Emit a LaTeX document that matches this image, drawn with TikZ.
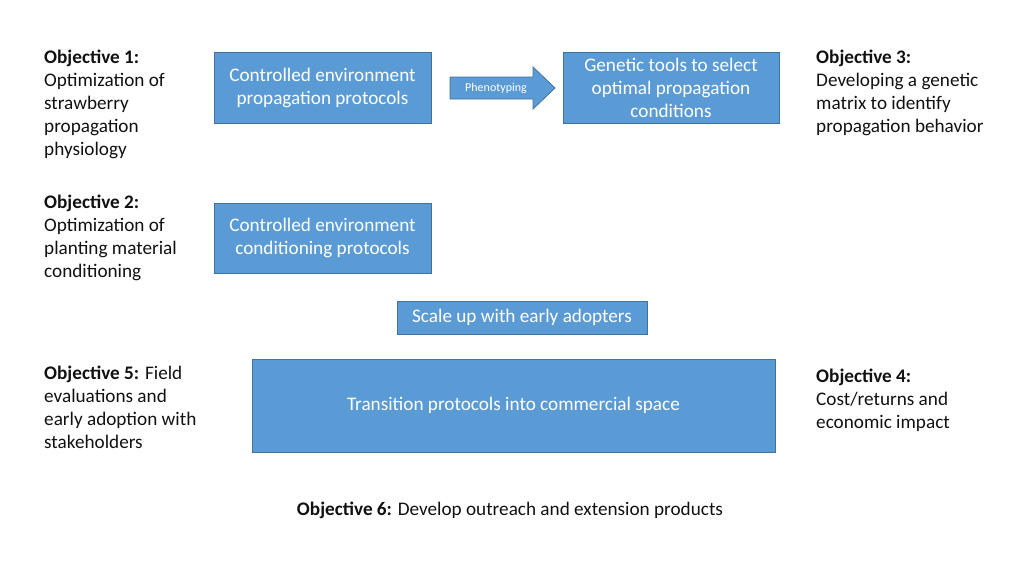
\documentclass[tikz,border=0pt]{standalone}
\usepackage{fontspec}
\setmainfont{Carlito}
\definecolor{boxblue}{HTML}{5B9BD5}
\definecolor{boxedge}{HTML}{41719C}
\definecolor{objtext}{HTML}{111111}

\begin{document}
\begin{tikzpicture}[x=1pt, y=-1pt]
\tikzset{BoxStyle/.style = {rectangle, fill=boxblue, draw=boxedge, line width=0.8pt, text=white, align=center, inner sep=0pt, font=\fontsize{19.2}{23}\selectfont}}
\tikzset{ObjStyle/.style = {anchor=north west, align=left, inner sep=0pt, text=objtext, font=\fontsize{19.2}{23}\selectfont}}
\tikzset{ArrowStyle/.style = {fill=boxblue, draw=boxedge, line width=0.8pt}}
  \useasboundingbox (0,0) rectangle (1024,576);

  \node[BoxStyle, minimum width=217pt, minimum height=71pt] (prop) at (322.5,88) {Controlled environment\\propagation protocols};
  \node[BoxStyle, minimum width=216pt, minimum height=71pt] (gen) at (671,88) {Genetic tools to select\\optimal propagation\\conditions};
  \node[BoxStyle, minimum width=217pt, minimum height=70pt] (cond) at (322.5,238) {Controlled environment\\conditioning protocols};
  \node[BoxStyle, minimum width=250pt, minimum height=33pt] (scale) at (522,317.5) {Scale up with early adopters};
  \node[BoxStyle, minimum width=523pt, minimum height=93pt] (trans) at (513.5,405.5) {Transition protocols into commercial space};

  % block arrow between the two top boxes
  \draw[ArrowStyle] (450,77) -- (533,77) -- (533,67) -- (555,88) -- (533,109) -- (533,99) -- (450,99) -- cycle;
  \node[text=white, inner sep=0pt, font=\fontsize{12}{14}\selectfont] (pheno) at (496,88) {Phenotyping};

  \node[ObjStyle] (obj1) at (44,49.5) {\textbf{Objective 1:}\\Optimization of\\strawberry\\propagation\\physiology};
  \node[ObjStyle] (obj2) at (44,194.5) {\textbf{Objective 2:}\\Optimization of\\planting material\\conditioning};
  \node[ObjStyle] (obj5) at (44,365.5) {\textbf{Objective 5:} Field\\evaluations and\\early adoption with\\stakeholders};
  \node[ObjStyle] (obj3) at (816,49.5) {\textbf{Objective 3:}\\Developing a genetic\\matrix to identify\\propagation behavior};
  \node[ObjStyle] (obj4) at (816,368.5) {\textbf{Objective 4:}\\Cost/returns and\\economic impact};
  \node[ObjStyle, anchor=center] (obj6) at (510,510) {\textbf{Objective 6:} Develop outreach and extension products};

\end{tikzpicture}
\end{document}
